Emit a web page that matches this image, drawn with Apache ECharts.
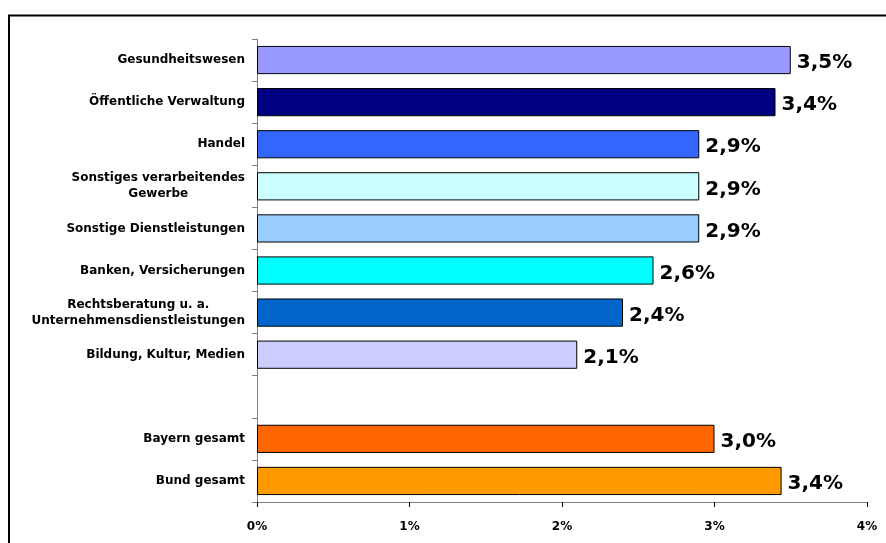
<!DOCTYPE html>
<html>
<head>
<meta charset="utf-8">
<script src="https://cdn.jsdelivr.net/npm/echarts@6/dist/echarts.min.js"></script>
<style>html,body{margin:0;padding:0;background:#fff}#c{width:886px;height:543px}</style>
</head>
<body>
<div id="c"></div>
<script>
var categories = ['Gesundheitswesen', 'Öffentliche Verwaltung', 'Handel', 'Sonstiges verarbeitendes\nGewerbe', 'Sonstige Dienstleistungen', 'Banken, Versicherungen', 'Rechtsberatung u. a.\nUnternehmensdienstleistungen', 'Bildung, Kultur, Medien', '', 'Bayern gesamt', 'Bund gesamt'];
var values = [3.5, 3.4, 2.9, 2.9, 2.9, 2.6, 2.4, 2.1, null, 3.0, 3.44];
var colors = ['#9999FF', '#000080', '#3366FF', '#CCFFFF', '#99CCFF', '#00FFFF', '#0066CC', '#CCCCFF', '#ffffff', '#FF6600', '#FF9900'];
var tickLabels = ['0%', '1%', '2%', '3%', '4%'];

var FONT = '"DejaVu Sans", sans-serif';
var chart = echarts.init(document.getElementById('c'), null, {renderer: 'canvas'});
chart.setOption({
  animation: false,
  backgroundColor: '#ffffff',
  grid: {left: 257, right: 19, top: 39, bottom: 41, containLabel: false},
  graphic: [
    {type: 'line', shape: {x1: 8, y1: 15.5, x2: 886, y2: 15.5}, style: {stroke: '#000', lineWidth: 2}},
    {type: 'line', shape: {x1: 9, y1: 15, x2: 9, y2: 543}, style: {stroke: '#000', lineWidth: 2}}
  ],
  xAxis: {
    type: 'value', min: 0, max: 4, interval: 1,
    axisLine: {show: true, lineStyle: {color: '#808080', width: 1}},
    axisTick: {show: true, length: 5, lineStyle: {color: '#000'}},
    splitLine: {show: false},
    axisLabel: {
      margin: 19,
      color: '#000', fontFamily: FONT, fontWeight: 'bold', fontSize: 12,
      formatter: function (v) { return tickLabels[Math.round(v)]; }
    }
  },
  yAxis: {
    type: 'category', inverse: true, data: categories,
    axisLine: {show: true, lineStyle: {color: '#808080', width: 1}},
    axisTick: {show: true, length: 5, lineStyle: {color: '#808080'}},
    axisLabel: {
      margin: 12, align: 'right', interval: 0,
      color: '#000', fontFamily: FONT, fontWeight: 'bold', fontSize: 12,
      formatter: function (v) {
        if (!v) return '';
        return v.split('\n').map(function (s) { return '{a|' + s + '}'; }).join('\n');
      },
      rich: {a: {align: 'center', fontFamily: FONT, fontWeight: 'bold', fontSize: 12, lineHeight: 16, color: '#000'}}
    }
  },
  series: [{
    type: 'bar',
    data: values.map(function (v, i) {
      return {value: v, itemStyle: {color: colors[i]}};
    }),
    barCategoryGap: '33%',
    itemStyle: {borderColor: '#000', borderWidth: 1},
    label: {
      show: true, position: 'right', distance: 6, offset: [0, 3],
      color: '#000', fontFamily: FONT, fontWeight: 'bold', fontSize: 20,
      formatter: function (p) { return p.value == null ? '' : p.value.toFixed(1).replace('.', ',') + '%'; }
    }
  }]
});
</script>
</body>
</html>
